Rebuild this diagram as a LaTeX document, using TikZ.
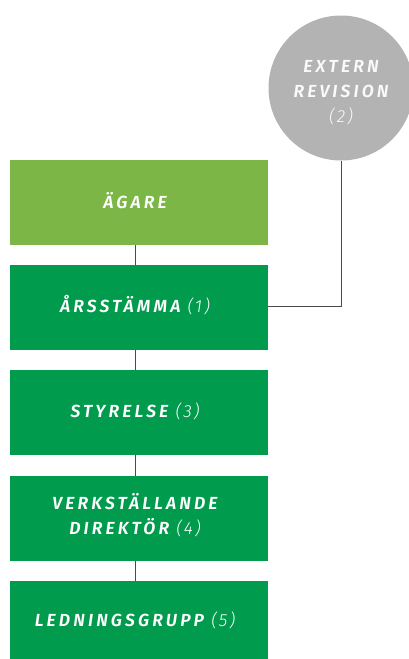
\documentclass[tikz,border=0pt]{standalone}
\usepackage{fontspec}
\newfontfamily\lbl{Fira Sans SemiBold Italic}[LetterSpace=18]
\newfontfamily\lbllight{Fira Sans Light Italic}[LetterSpace=12]
\definecolor{lightgreen}{HTML}{7BB646}
\definecolor{darkgreen}{HTML}{009B4D}
\definecolor{circgray}{HTML}{B3B3B3}
\definecolor{linegray}{HTML}{4A4A4A}
\begin{document}
\begin{tikzpicture}[x=1pt,y=-1pt,
  lab/.style={text=white, font=\lbl\fontsize{17.5}{25}\selectfont, align=center, inner sep=0pt},
  conn/.style={draw=linegray, line width=1pt}]
\useasboundingbox (0,0) rectangle (409,659);
% boxes
\fill[lightgreen] (10,160) rectangle (268,245);
\fill[darkgreen] (10,265) rectangle (268,350);
\fill[darkgreen] (10,370) rectangle (268,455);
\fill[darkgreen] (10,476) rectangle (268,561);
\fill[darkgreen] (10,581) rectangle (268,659);
\node[lab] (agare) at (135,200.5) {ÄGARE};
\node[lab] (arss) at (135,305) {ÅRSSTÄMMA {\lbllight(1)}};
\node[lab] (styr) at (135,411) {STYRELSE {\lbllight(3)}};
\node[lab] (vd) at (135,515.5) {VERKSTÄLLANDE\\DIREKTÖR {\lbllight(4)}};
\node[lab] (led) at (135,620) {LEDNINGSGRUPP {\lbllight(5)}};
% named box edges
\coordinate (b1) at (135,245); \coordinate (t2) at (135,265);
\coordinate (b2) at (135,350); \coordinate (t3) at (135,370);
\coordinate (b3) at (135,455); \coordinate (t4) at (135,476);
\coordinate (b4) at (135,561); \coordinate (t5) at (135,581);
\draw[conn] (b1) -- (t2);
\draw[conn] (b2) -- (t3);
\draw[conn] (b3) -- (t4);
\draw[conn] (b4) -- (t5);
% circle
\node[circle, fill=circgray, minimum size=145pt, inner sep=0pt] (ext) at (341,88) {};
\node[text=white!94!circgray, font=\lbl\fontsize{17.5}{25}\selectfont, align=center, inner sep=0pt] (extlab) at (341,92.5) {EXTERN\\REVISION\\{\lbllight(2)}};
\coordinate (ar) at (268,306.5);
\draw[conn] (ext.south) |- (ar);
\end{tikzpicture}
\end{document}
